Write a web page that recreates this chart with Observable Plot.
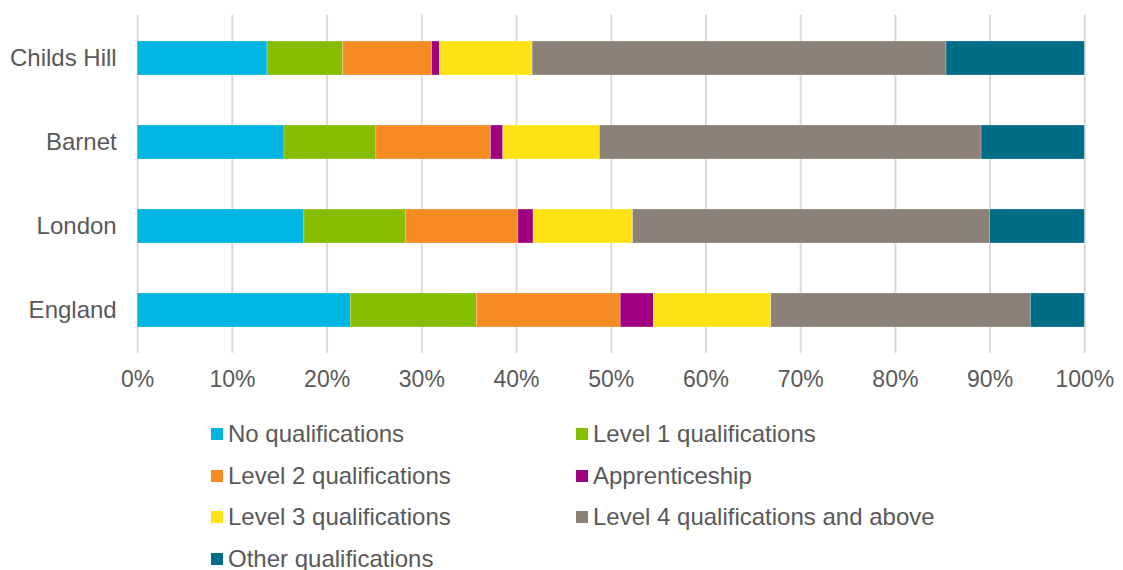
<!DOCTYPE html>
<html>
<head>
<meta charset="utf-8">
<script src="https://cdn.jsdelivr.net/npm/d3@7"></script>
<script src="https://cdn.jsdelivr.net/npm/@observablehq/plot@0.6"></script>
<style>
  html, body { margin: 0; padding: 0; background: #fff; }
  body { width: 1123px; height: 570px; overflow: hidden; font-family: "Liberation Sans", Arial, sans-serif; color: #595959; }
  #legend { position: relative; height: 170px; }
  .item { position: absolute; display: flex; align-items: center; font-size: 24px; line-height: 36px; white-space: nowrap; }
  .sw { width: 12px; height: 12px; margin-right: 5px; flex: none; }
</style>
</head>
<body>
<div id="chart"></div>
<div id="legend"></div>
<script>
const areas = ["Childs Hill", "Barnet", "London", "England"];
const series = [
  "No qualifications",
  "Level 1 qualifications",
  "Level 2 qualifications",
  "Apprenticeship",
  "Level 3 qualifications",
  "Level 4 qualifications and above",
  "Other qualifications"
];
const colors = ["#00b5e2", "#86bd00", "#f68b22", "#a0007f", "#ffe314", "#8b8178", "#006d87"];
// values (%) per series, in order of areas
const noQual    = [13.7, 15.5, 17.6, 22.5];
const level1    = [8.0, 9.7, 10.7, 13.3];
const level2    = [9.4, 12.1, 11.9, 15.2];
const apprent   = [0.8, 1.3, 1.6, 3.5];
const level3    = [9.8, 10.2, 10.5, 12.4];
const level4    = [43.7, 40.3, 37.7, 27.4];
const otherQual = [14.6, 10.9, 10.0, 5.7];
const xTicks = [0, 10, 20, 30, 40, 50, 60, 70, 80, 90, 100];

const seriesValues = [noQual, level1, level2, apprent, level3, level4, otherQual];
const data = [];
series.forEach((s, i) => {
  areas.forEach((a, j) => data.push({ area: a, series: s, value: seriesValues[i][j] }));
});

const chart = Plot.plot({
  width: 1123,
  height: 400,
  marginLeft: 137.2,
  marginRight: 38.7,
  marginTop: 14.65,
  marginBottom: 47.35,
  style: { fontFamily: "'Liberation Sans', Arial, sans-serif", fontSize: "23px", color: "#595959", background: "#fff" },
  x: { domain: [0, 100] },
  y: { domain: areas, paddingInner: 0.6, paddingOuter: 0.3 },
  color: { domain: series, range: colors },
  marks: [
    Plot.gridX(xTicks, { stroke: "#d9d9d9", strokeOpacity: 1, strokeWidth: 2 }),
    Plot.barX(data, Plot.stackX({ x: "value", y: "area", fill: "series", order: series, stroke: "#fff", strokeOpacity: 0.35, strokeWidth: 0.7 })),
    Plot.axisX(xTicks, { tickSize: 0, tickPadding: 18, tickFormat: d => d + "%", label: null, fill: "#595959" }),
    Plot.axisY({ tickSize: 0, tickPadding: 21, label: null, fill: "#595959", fontSize: 24 })
  ]
});
document.getElementById("chart").appendChild(chart);

const legend = document.getElementById("legend");
const colX = [211, 576];
series.forEach((s, i) => {
  const el = document.createElement("div");
  el.className = "item";
  el.style.left = colX[i % 2] + "px";
  el.style.top = (16 + Math.floor(i / 2) * 41.5) + "px";
  const sw = document.createElement("span");
  sw.className = "sw";
  sw.style.background = colors[i];
  el.appendChild(sw);
  el.appendChild(document.createTextNode(s));
  legend.appendChild(el);
});
</script>
</body>
</html>
